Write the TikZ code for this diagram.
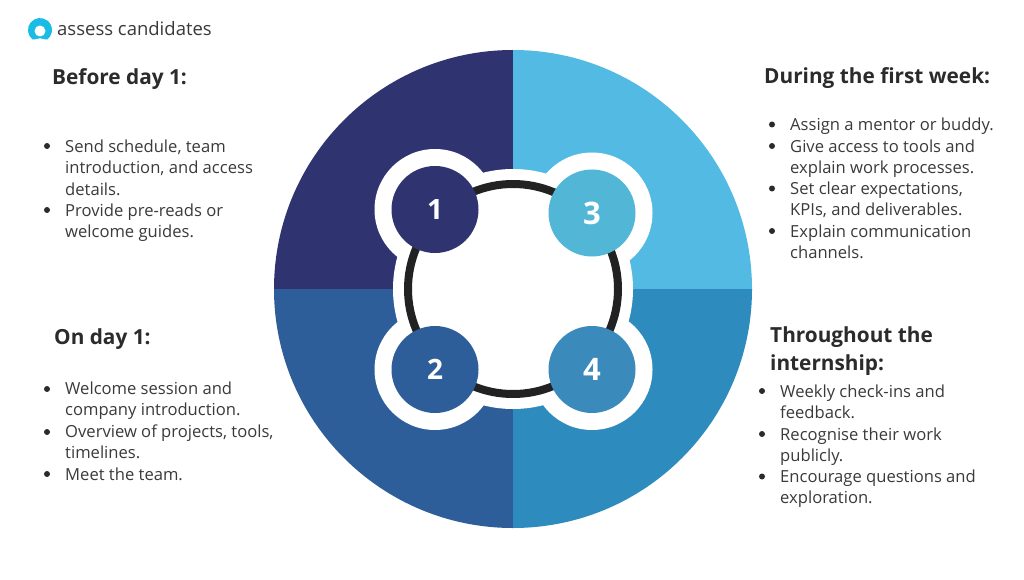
\documentclass[tikz,border=0pt]{standalone}
\usepackage{fontspec}
\setmainfont{Open Sans}
\usetikzlibrary{positioning}
\definecolor{navy}{HTML}{2F3470}
\definecolor{sky}{HTML}{52BAE3}
\definecolor{steel}{HTML}{2E5E99}
\definecolor{ocean}{HTML}{2E8BBD}
\definecolor{skydot}{HTML}{52B7D6}
\definecolor{oceandot}{HTML}{3A8ABB}
\definecolor{logoblue}{HTML}{19BCE4}
\definecolor{inktext}{HTML}{3A3A3A}
\definecolor{inkhead}{HTML}{2B2B2B}
\definecolor{ringblack}{HTML}{222222}
\tikzset{
  x=1pt, y=-1pt,
  headtext/.style={anchor=base west, inner sep=0pt, align=left, text=inkhead,
    font=\fontsize{20.8}{28}\selectfont\bfseries},
  listtext/.style={anchor=base west, inner sep=0pt, align=left, text=inktext,
    font=\fontsize{16.6}{21.3}\selectfont},
  listdot/.style={circle, fill=inkhead, inner sep=0pt, minimum size=6pt},
  halo/.style={circle, fill=white, inner sep=0pt, minimum size=121pt},
  numdot/.style={circle, inner sep=0pt, minimum size=87pt, text=white,
    font=\fontsize{28}{28}\selectfont\bfseries},
}
\begin{document}
\begin{tikzpicture}
\useasboundingbox (0,0) rectangle (1024,580);
\fill[white] (0,0) rectangle (1024,580);
% quarters
\fill[navy] (513,289) -- (513,50) arc[start angle=90, end angle=180, radius=239pt] -- cycle;
\fill[sky] (513,289) -- (513,50) arc[start angle=90, end angle=0, radius=239pt] -- cycle;
\fill[steel] (513,289) -- (274,289) arc[start angle=180, end angle=270, radius=239pt] -- cycle;
\fill[ocean] (513,289) -- (513,528) arc[start angle=270, end angle=360, radius=239pt] -- cycle;
% middle
\node[circle, fill=white, inner sep=0pt, minimum size=240pt] (mid) at (513,289) {};
\node[halo] (halo1) at (435,209.5) {};
\node[halo] (halo2) at (435,369.5) {};
\node[halo] (halo3) at (592,213) {};
\node[halo] (halo4) at (592,369.5) {};
\node[circle, draw=ringblack, line width=8pt, inner sep=0pt, minimum size=210pt] (ring) at (513,289) {};
\node[numdot, fill=navy] (one) at (435,209.5) {1};
\node[numdot, fill=steel] (two) at (435,369.5) {2};
\node[numdot, fill=skydot, font=\fontsize{31}{31}\selectfont\bfseries] (three) at (592,213) {3};
\node[numdot, fill=oceandot, font=\fontsize{31}{31}\selectfont\bfseries] (four) at (592,369.5) {4};
% logo
\fill[logoblue] (32.6,39.5) arc[start angle=232, end angle=-52, radius=12pt] -- cycle;
\fill[white] (34,41) .. controls (36,37.5) and (44,37.5) .. (46,41) -- cycle;
\node[circle, fill=white, inner sep=0pt, minimum size=11pt] (logohole) at (40,31) {};
\node[anchor=base west, inner sep=0pt, text=inktext, font=\fontsize{18.5}{22}\selectfont] (logotext) at (57,36) {assess candidates};
% before day 1
\node[headtext] (before) at (52,85) {Before day 1:};
\node[listdot] (b1) at (47,146) {};
\node[listtext] (t1) at (65,195) {Send schedule, team\\introduction, and access\\details.};
\node[listdot] (b2) at (47,210) {};
\node[listtext] (t2) at (65,237.5) {Provide pre-reads or\\welcome guides.};
% on day 1
\node[headtext] (onday) at (54,344) {On day 1:};
\node[listdot] (b3) at (47,389) {};
\node[listtext] (t3) at (65,415.8) {Welcome session and\\company introduction.};
\node[listdot] (b4) at (47,432) {};
\node[listtext] (t4) at (65,458.8) {Overview of projects, tools,\\timelines.};
\node[listdot] (b5) at (47,474) {};
\node[listtext] (t5) at (65,480) {Meet the team.};
% first week
\node[headtext] (week) at (764,84) {During the first week:};
\node[listdot] (b6) at (772,124.5) {};
\node[listtext] (t6) at (790,130.5) {Assign a mentor or buddy.};
\node[listdot] (b7) at (772,146) {};
\node[listtext] (t7) at (790,173.3) {Give access to tools and\\explain work processes.};
\node[listdot] (b8) at (772,188.5) {};
\node[listtext] (t8) at (790,215.8) {Set clear expectations,\\KPIs, and deliverables.};
\node[listdot] (b9) at (772,231) {};
\node[listtext] (t9) at (790,258.3) {Explain communication\\channels.};
% internship
\node[headtext] (intern) at (770,370) {Throughout the\\internship:};
\node[listdot] (b10) at (762,391) {};
\node[listtext] (t10) at (780,418.8) {Weekly check-ins and\\feedback.};
\node[listdot] (b11) at (762,434) {};
\node[listtext] (t11) at (780,461.8) {Recognise their work\\publicly.};
\node[listdot] (b12) at (762,476.5) {};
\node[listtext] (t12) at (780,503.8) {Encourage questions and\\exploration.};
\end{tikzpicture}
\end{document}
